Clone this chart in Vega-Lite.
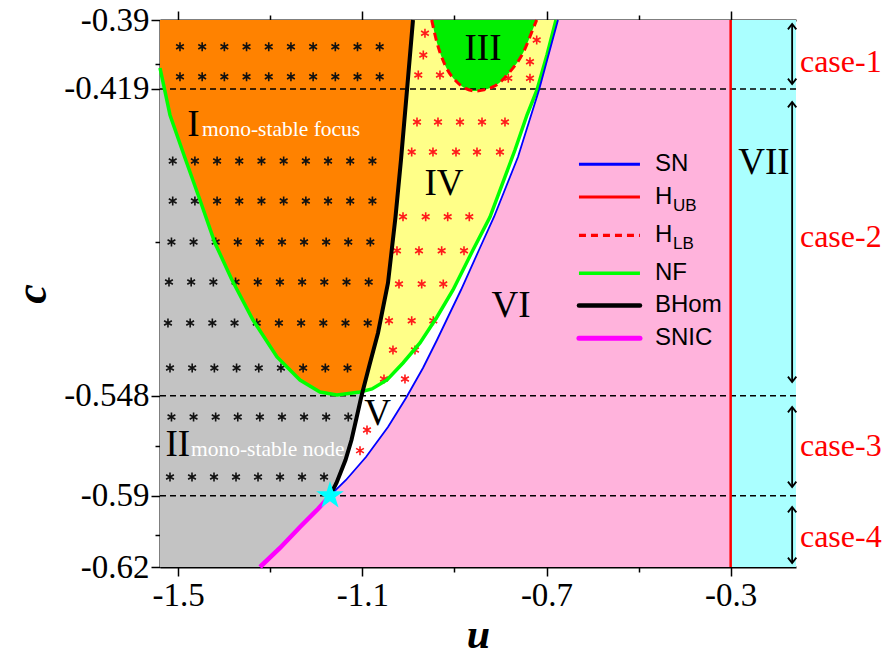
{
  "$schema": "https://vega.github.io/schema/vega-lite/v6.json",
  "width": 636,
  "height": 547,
  "autosize": {"type": "none"},
  "padding": {"left": 160, "top": 20, "right": 92, "bottom": 92},
  "background": "white",
  "config": {"view": {"stroke": null}},
  "resolve": {"axis": {"x": "independent"}},
  "datasets": {
    "box": [
      {"k": "gray", "u1": -1.5395, "u2": -0.3, "c1": -0.62, "c2": -0.39},
      {"k": "cyan", "u1": -0.3, "u2": -0.1581, "c1": -0.62, "c2": -0.39}
    ],
    "bound": [
      {"curve": "SNIC", "u": -1.3223, "c": -0.62},
      {"curve": "SNIC", "u": -1.2789, "c": -0.61201},
      {"curve": "SNIC", "u": -1.2354, "c": -0.60318},
      {"curve": "SNIC", "u": -1.1964, "c": -0.59561},
      {"curve": "SNIC", "u": -1.1703, "c": -0.59},
      {"curve": "SN", "u": -1.1703, "c": -0.59},
      {"curve": "SN", "u": -1.1355, "c": -0.58342},
      {"curve": "SN", "u": -1.0921, "c": -0.57375},
      {"curve": "SN", "u": -1.0443, "c": -0.56113},
      {"curve": "SN", "u": -1.0052, "c": -0.54894},
      {"curve": "SN", "u": -0.9683, "c": -0.53632},
      {"curve": "SN", "u": -0.9379, "c": -0.52455},
      {"curve": "SN", "u": -0.914, "c": -0.51488},
      {"curve": "SN", "u": -0.8858, "c": -0.50353},
      {"curve": "SN", "u": -0.8467, "c": -0.48671},
      {"curve": "SN", "u": -0.8141, "c": -0.47283},
      {"curve": "SN", "u": -0.762, "c": -0.4476},
      {"curve": "SN", "u": -0.7163, "c": -0.41943},
      {"curve": "SN", "u": -0.6751, "c": -0.39}
    ],
    "white": [
      {"c": -0.59, "b": -1.1703, "s": -1.1703},
      {"c": -0.58468, "b": -1.1562, "s": -1.1421},
      {"c": -0.58342, "b": -1.1536, "s": -1.1355},
      {"c": -0.57501, "b": -1.1366, "s": -1.0978},
      {"c": -0.57375, "b": -1.1347, "s": -1.0921},
      {"c": -0.5666, "b": -1.1236, "s": -1.065},
      {"c": -0.56113, "b": -1.1172, "s": -1.0443},
      {"c": -0.55735, "b": -1.1127, "s": -1.0322},
      {"c": -0.54894, "b": -1.1029, "s": -1.0052},
      {"c": -0.5481, "b": -1.1019, "s": -1.0028},
      {"c": -0.53632, "b": -1.0862, "s": -0.9683},
      {"c": -0.53506, "b": -1.0845, "s": -0.965},
      {"c": -0.52455, "b": -1.0701, "s": -0.9379},
      {"c": -0.52161, "b": -1.066, "s": -0.9306},
      {"c": -0.51488, "b": -1.0591, "s": -0.914},
      {"c": -0.50353, "b": -1.0474, "s": -0.8858},
      {"c": -0.50058, "b": -1.0443, "s": -0.8789},
      {"c": -0.48671, "b": -1.0362, "s": -0.8467},
      {"c": -0.47283, "b": -1.028, "s": -0.8141},
      {"c": -0.44887, "b": -1.0161, "s": -0.7646},
      {"c": -0.4476, "b": -1.0155, "s": -0.762},
      {"c": -0.41943, "b": -1.003, "s": -0.7163},
      {"c": -0.39, "b": -0.99, "s": -0.6751}
    ],
    "yellow": [
      {"c": -0.54612, "b": -1.0991, "n": -1.0991},
      {"c": -0.54515, "b": -1.098, "n": -1.0791},
      {"c": -0.54137, "b": -1.0929, "n": -1.0465},
      {"c": -0.53422, "b": -1.0833, "n": -1.0117},
      {"c": -0.52581, "b": -1.0718, "n": -0.9748},
      {"c": -0.51488, "b": -1.0591, "n": -0.9379},
      {"c": -0.50353, "b": -1.0474, "n": -0.9031},
      {"c": -0.48671, "b": -1.0362, "n": -0.8597},
      {"c": -0.47283, "b": -1.028, "n": -0.8228},
      {"c": -0.45601, "b": -1.0196, "n": -0.7902},
      {"c": -0.44466, "b": -1.0142, "n": -0.7685},
      {"c": -0.42994, "b": -1.0077, "n": -0.7424},
      {"c": -0.41943, "b": -1.003, "n": -0.7207},
      {"c": -0.40472, "b": -0.9965, "n": -0.699},
      {"c": -0.39, "b": -0.99, "n": -0.6794}
    ],
    "orange": [
      {"c": -0.54768, "l": -1.1551, "r": -1.1551},
      {"c": -0.54684, "l": -1.1796, "r": -1.1219},
      {"c": -0.54641, "l": -1.192, "r": -1.1051},
      {"c": -0.54612, "l": -1.1946, "r": -1.0991},
      {"c": -0.54137, "l": -1.2354, "r": -1.0929},
      {"c": -0.5317, "l": -1.2854, "r": -1.0799},
      {"c": -0.51614, "l": -1.3375, "r": -1.0604},
      {"c": -0.49932, "l": -1.3831, "r": -1.0436},
      {"c": -0.48376, "l": -1.4201, "r": -1.0344},
      {"c": -0.46568, "l": -1.4527, "r": -1.0245},
      {"c": -0.44802, "l": -1.4852, "r": -1.0157},
      {"c": -0.42994, "l": -1.5178, "r": -1.0077},
      {"c": -0.41018, "l": -1.5395, "r": -0.9989},
      {"c": -0.39, "l": -1.5395, "r": -0.99}
    ],
    "nf": [
      {"u": -1.5395, "c": -0.41018}, {"u": -1.5178, "c": -0.42994}, {"u": -1.4852, "c": -0.44802},
      {"u": -1.4527, "c": -0.46568}, {"u": -1.4201, "c": -0.48376}, {"u": -1.3831, "c": -0.49932},
      {"u": -1.3375, "c": -0.51614}, {"u": -1.2854, "c": -0.5317}, {"u": -1.2354, "c": -0.54137},
      {"u": -1.192, "c": -0.54641}, {"u": -1.1551, "c": -0.54768}, {"u": -1.1051, "c": -0.54641},
      {"u": -1.0791, "c": -0.54515}, {"u": -1.0465, "c": -0.54137}, {"u": -1.0117, "c": -0.53422},
      {"u": -0.9748, "c": -0.52581}, {"u": -0.9379, "c": -0.51488}, {"u": -0.9031, "c": -0.50353},
      {"u": -0.8597, "c": -0.48671}, {"u": -0.8228, "c": -0.47283}, {"u": -0.7902, "c": -0.45601},
      {"u": -0.7685, "c": -0.44466}, {"u": -0.7424, "c": -0.42994}, {"u": -0.7207, "c": -0.41943},
      {"u": -0.699, "c": -0.40472}, {"u": -0.6794, "c": -0.39}
    ],
    "bhom": [
      {"u": -1.1703, "c": -0.59}, {"u": -1.1562, "c": -0.58468}, {"u": -1.1366, "c": -0.57501},
      {"u": -1.1236, "c": -0.5666}, {"u": -1.1127, "c": -0.55735}, {"u": -1.1019, "c": -0.5481},
      {"u": -1.0845, "c": -0.53506}, {"u": -1.066, "c": -0.52161}, {"u": -1.0443, "c": -0.50058},
      {"u": -1.028, "c": -0.47283}, {"u": -1.0161, "c": -0.44887}, {"u": -1.003, "c": -0.41943},
      {"u": -0.99, "c": -0.39}
    ],
    "hlb": [
      {"u": -0.9494, "c": -0.39}, {"u": -0.9385, "c": -0.39912}, {"u": -0.9205, "c": -0.40892},
      {"u": -0.8951, "c": -0.41594}, {"u": -0.8553, "c": -0.41985}, {"u": -0.8156, "c": -0.41805},
      {"u": -0.7793, "c": -0.41174}, {"u": -0.7496, "c": -0.40333}, {"u": -0.7287, "c": -0.39349},
      {"u": -0.7213, "c": -0.39}
    ],
    "dash": [{"c": -0.419}, {"c": -0.548}, {"c": -0.59}],
    "starBlack": [
      {"u": -1.4961, "c": -0.40123}, {"u": -1.4479, "c": -0.40123}, {"u": -1.3997, "c": -0.40123}, {"u": -1.3515, "c": -0.40123}, {"u": -1.3033, "c": -0.40123},
      {"u": -1.2551, "c": -0.40123}, {"u": -1.2069, "c": -0.40123}, {"u": -1.1587, "c": -0.40123}, {"u": -1.1105, "c": -0.40123}, {"u": -1.0623, "c": -0.40123},
      {"u": -1.4961, "c": -0.41384}, {"u": -1.4479, "c": -0.41384}, {"u": -1.3997, "c": -0.41384}, {"u": -1.3515, "c": -0.41384}, {"u": -1.3033, "c": -0.41384},
      {"u": -1.2551, "c": -0.41384}, {"u": -1.2069, "c": -0.41384}, {"u": -1.1587, "c": -0.41384}, {"u": -1.1105, "c": -0.41384}, {"u": -1.0623, "c": -0.41384},
      {"u": -1.5119, "c": -0.44929}, {"u": -1.4637, "c": -0.44929}, {"u": -1.4155, "c": -0.44929}, {"u": -1.3673, "c": -0.44929}, {"u": -1.3191, "c": -0.44929},
      {"u": -1.2709, "c": -0.44929}, {"u": -1.2227, "c": -0.44929}, {"u": -1.1745, "c": -0.44929}, {"u": -1.1263, "c": -0.44929}, {"u": -1.0781, "c": -0.44929},
      {"u": -1.5119, "c": -0.4661}, {"u": -1.4637, "c": -0.4661}, {"u": -1.4155, "c": -0.4661}, {"u": -1.3673, "c": -0.4661}, {"u": -1.3191, "c": -0.4661},
      {"u": -1.2709, "c": -0.4661}, {"u": -1.2227, "c": -0.4661}, {"u": -1.1745, "c": -0.4661}, {"u": -1.1263, "c": -0.4661}, {"u": -1.0781, "c": -0.4661},
      {"u": -1.5146, "c": -0.48334}, {"u": -1.4666, "c": -0.48334}, {"u": -1.4186, "c": -0.48334}, {"u": -1.3706, "c": -0.48334}, {"u": -1.3226, "c": -0.48334},
      {"u": -1.2746, "c": -0.48334}, {"u": -1.2266, "c": -0.48334}, {"u": -1.1786, "c": -0.48334}, {"u": -1.1306, "c": -0.48334}, {"u": -1.0826, "c": -0.48334},
      {"u": -1.52, "c": -0.50016}, {"u": -1.4718, "c": -0.50016}, {"u": -1.4236, "c": -0.50016}, {"u": -1.3754, "c": -0.50016}, {"u": -1.3272, "c": -0.50016},
      {"u": -1.279, "c": -0.50016}, {"u": -1.2308, "c": -0.50016}, {"u": -1.1826, "c": -0.50016}, {"u": -1.1344, "c": -0.50016}, {"u": -1.0862, "c": -0.50016},
      {"u": -1.5222, "c": -0.5174}, {"u": -1.474, "c": -0.5174}, {"u": -1.4258, "c": -0.5174}, {"u": -1.3776, "c": -0.5174}, {"u": -1.3294, "c": -0.5174},
      {"u": -1.2812, "c": -0.5174}, {"u": -1.233, "c": -0.5174}, {"u": -1.1848, "c": -0.5174}, {"u": -1.1366, "c": -0.5174}, {"u": -1.0884, "c": -0.5174},
      {"u": -1.5178, "c": -0.53632}, {"u": -1.4696, "c": -0.53632}, {"u": -1.4214, "c": -0.53632}, {"u": -1.3732, "c": -0.53632}, {"u": -1.325, "c": -0.53632},
      {"u": -1.2768, "c": -0.53632}, {"u": -1.2286, "c": -0.53632}, {"u": -1.1804, "c": -0.53632}, {"u": -1.1322, "c": -0.53632},
      {"u": -1.5146, "c": -0.55693}, {"u": -1.4666, "c": -0.55693}, {"u": -1.4186, "c": -0.55693}, {"u": -1.3706, "c": -0.55693}, {"u": -1.3226, "c": -0.55693},
      {"u": -1.2746, "c": -0.55693}, {"u": -1.2266, "c": -0.55693}, {"u": -1.1786, "c": -0.55693}, {"u": -1.1306, "c": -0.55693},
      {"u": -1.5178, "c": -0.58215}, {"u": -1.47, "c": -0.58215}, {"u": -1.4222, "c": -0.58215}, {"u": -1.3744, "c": -0.58215},
      {"u": -1.3266, "c": -0.58215}, {"u": -1.2788, "c": -0.58215}, {"u": -1.231, "c": -0.58215}, {"u": -1.1832, "c": -0.58215}
    ],
    "starRed": [
      {"u": -0.964, "c": -0.39559}, {"u": -0.7213, "c": -0.39841}, {"u": -0.9676, "c": -0.40472}, {"u": -0.7359, "c": -0.40753},
      {"u": -0.9785, "c": -0.41313}, {"u": -0.9314, "c": -0.41313}, {"u": -0.783, "c": -0.41451}, {"u": -0.7359, "c": -0.41451},
      {"u": -0.9813, "c": -0.43289}, {"u": -0.9357, "c": -0.43289}, {"u": -0.8879, "c": -0.43289}, {"u": -0.8401, "c": -0.43289}, {"u": -0.7902, "c": -0.43289},
      {"u": -0.9928, "c": -0.4455}, {"u": -0.9466, "c": -0.4455}, {"u": -0.8966, "c": -0.4455}, {"u": -0.851, "c": -0.4455}, {"u": -0.8011, "c": -0.4455},
      {"u": -1.0117, "c": -0.47271}, {"u": -0.9624, "c": -0.47271}, {"u": -0.9146, "c": -0.47271}, {"u": -0.8677, "c": -0.47271},
      {"u": -1.0248, "c": -0.487}, {"u": -0.977, "c": -0.487}, {"u": -0.9277, "c": -0.487}, {"u": -0.8792, "c": -0.487},
      {"u": -1.0204, "c": -0.501}, {"u": -0.9711, "c": -0.501}, {"u": -0.9242, "c": -0.501},
      {"u": -1.0421, "c": -0.51643}, {"u": -0.9928, "c": -0.51643}, {"u": -0.9459, "c": -0.51643},
      {"u": -1.0335, "c": -0.52875}, {"u": -0.9857, "c": -0.52875},
      {"u": -1.053, "c": -0.54095}, {"u": -1.0074, "c": -0.54095},
      {"u": -1.0899, "c": -0.56239}, {"u": -1.1051, "c": -0.57109}
    ],
    "roman": [
      {"t": "I", "u": -1.4668, "c": -0.43877},
      {"t": "II", "u": -1.5007, "c": -0.57333},
      {"t": "III", "u": -0.838, "c": -0.40682},
      {"t": "IV", "u": -0.9227, "c": -0.46358},
      {"t": "V", "u": -1.0671, "c": -0.56029},
      {"t": "VI", "u": -0.7772, "c": -0.51488},
      {"t": "VII", "u": -0.2277, "c": -0.45475}
    ],
    "desc": [
      {"t": "mono-stable focus", "u": -1.4483, "c": -0.43877},
      {"t": "mono-stable node", "u": -1.4722, "c": -0.57333}
    ],
    "cases": [
      {"t": "case-1", "u": -0.1495, "c": -0.40766},
      {"t": "case-2", "u": -0.1495, "c": -0.48124},
      {"t": "case-3", "u": -0.1495, "c": -0.56912},
      {"t": "case-4", "u": -0.1495, "c": -0.60738}
    ],
    "arrows": [
      {"u": -0.1665, "c1": -0.41691, "c2": -0.39168},
      {"u": -0.1665, "c1": -0.54221, "c2": -0.42448},
      {"u": -0.1665, "c1": -0.58636, "c2": -0.55272},
      {"u": -0.1665, "c1": -0.61832, "c2": -0.59477}
    ],
    "legend": [
      {"k": "SN", "c": -0.45067},
      {"k": "HUB", "c": -0.46442},
      {"k": "HLB", "c": -0.48053},
      {"k": "NF", "c": -0.49651},
      {"k": "BHom", "c": -0.51004},
      {"k": "SNIC", "c": -0.52384}
    ],
    "legendText": [
      {"t": "SN", "c": -0.45067},
      {"t": "H", "c": -0.46442},
      {"t": "H", "c": -0.48053},
      {"t": "NF", "c": -0.49651},
      {"t": "BHom", "c": -0.51004},
      {"t": "SNIC", "c": -0.52384}
    ],
    "legendSub": [
      {"t": "UB", "c": -0.46821},
      {"t": "LB", "c": -0.48419}
    ],
    "bt": [{"u": -1.1703, "c": -0.59}],
    "hub": [{"u": -0.3}]
  },
  "layer": [
    {
      "data": {"name": "box"},
      "transform": [{"filter": "datum.k == 'gray'"}],
      "mark": {"type": "rect", "color": "#c3c3c3"},
      "encoding": {
        "x": {"field": "u1", "type": "quantitative", "scale": {"domain": [-1.5395, -0.1581], "nice": false, "zero": false},
          "axis": {"orient": "bottom", "values": [-1.5, -1.3, -1.1, -0.9, -0.7, -0.5, -0.3],
            "labelExpr": "datum.value == -1.5 ? '-1.5' : datum.value == -1.1 ? '-1.1' : datum.value == -0.7 ? '-0.7' : datum.value == -0.3 ? '-0.3' : ''",
            "tickSize": {"condition": {"test": "datum.value == -1.5 || datum.value == -1.1 || datum.value == -0.7 || datum.value == -0.3", "value": 9}, "value": 5},
            "grid": false, "labelFont": "Liberation Serif", "labelFontSize": 33, "labelColor": "black", "labelPadding": 3,
            "labelOverlap": false, "labelFlush": false,
            "domainColor": "black", "domainWidth": 2, "tickColor": "black", "tickWidth": 1.5,
            "title": "u", "titleFont": "Liberation Serif", "titleFontSize": 42, "titleFontStyle": "italic", "titleFontWeight": "bold", "titleColor": "black", "titlePadding": 2}},
        "x2": {"field": "u2"},
        "y": {"field": "c1", "type": "quantitative", "scale": {"domain": [-0.62, -0.39], "nice": false, "zero": false},
          "axis": {"orient": "left", "values": [-0.39, -0.4085, -0.419, -0.4835, -0.548, -0.569, -0.59, -0.6065, -0.62],
            "labelExpr": "datum.value == -0.39 ? '-0.39' : datum.value == -0.419 ? '-0.419' : datum.value == -0.548 ? '-0.548' : datum.value == -0.59 ? '-0.59' : datum.value == -0.62 ? '-0.62' : ''",
            "tickSize": {"condition": {"test": "datum.value == -0.39 || datum.value == -0.419 || datum.value == -0.548 || datum.value == -0.59 || datum.value == -0.62", "value": 9}, "value": 5},
            "grid": false, "labelFont": "Liberation Serif", "labelFontSize": 33, "labelColor": "black", "labelPadding": 2,
            "labelOverlap": false, "labelFlush": false,
            "domainColor": "black", "domainWidth": 2, "tickColor": "black", "tickWidth": 1.5,
            "title": "c", "titleFont": "Liberation Serif", "titleFontSize": 44, "titleFontStyle": "italic", "titleFontWeight": "bold", "titleColor": "black", "titlePadding": 9}},
        "y2": {"field": "c2"}
      }
    },
    {
      "data": {"name": "box"},
      "transform": [{"filter": "datum.k == 'cyan'"}],
      "mark": {"type": "rect", "color": "#aaffff"},
      "encoding": {
        "x": {"field": "u1", "type": "quantitative", "scale": {"domain": [-1.5395, -0.1581], "nice": false, "zero": false},
          "axis": {"orient": "top", "values": [-1.5, -1.3, -1.1, -0.9, -0.7, -0.5, -0.3], "labels": false, "title": null, "grid": false,
            "tickSize": {"condition": {"test": "datum.value == -1.5 || datum.value == -1.1 || datum.value == -0.7 || datum.value == -0.3", "value": 9}, "value": 5},
            "domainColor": "black", "domainWidth": 2, "tickColor": "black", "tickWidth": 1.5}},
        "x2": {"field": "u2"},
        "y": {"field": "c1", "type": "quantitative", "scale": {"domain": [-0.62, -0.39], "nice": false, "zero": false}},
        "y2": {"field": "c2"}
      }
    },
    {
      "data": {"name": "bound"},
      "mark": {"type": "area", "orient": "horizontal", "color": "#ffb3dc", "opacity": 1},
      "encoding": {
        "y": {"field": "c", "type": "quantitative", "scale": {"domain": [-0.62, -0.39], "nice": false, "zero": false}},
        "x": {"field": "u", "type": "quantitative", "stack": null, "scale": {"domain": [-1.5395, -0.1581], "nice": false, "zero": false}, "axis": null},
        "x2": {"datum": -0.3}
      }
    },
    {
      "data": {"name": "white"},
      "mark": {"type": "area", "orient": "horizontal", "color": "#ffffff", "opacity": 1},
      "encoding": {
        "y": {"field": "c", "type": "quantitative", "scale": {"domain": [-0.62, -0.39], "nice": false, "zero": false}},
        "x": {"field": "b", "type": "quantitative", "stack": null, "scale": {"domain": [-1.5395, -0.1581], "nice": false, "zero": false}, "axis": null},
        "x2": {"field": "s"}
      }
    },
    {
      "data": {"name": "yellow"},
      "mark": {"type": "area", "orient": "horizontal", "color": "#ffff88", "opacity": 1},
      "encoding": {
        "y": {"field": "c", "type": "quantitative", "scale": {"domain": [-0.62, -0.39], "nice": false, "zero": false}},
        "x": {"field": "b", "type": "quantitative", "stack": null, "scale": {"domain": [-1.5395, -0.1581], "nice": false, "zero": false}, "axis": null},
        "x2": {"field": "n"}
      }
    },
    {
      "data": {"name": "orange"},
      "mark": {"type": "area", "orient": "horizontal", "color": "#ff8200", "opacity": 1},
      "encoding": {
        "y": {"field": "c", "type": "quantitative", "scale": {"domain": [-0.62, -0.39], "nice": false, "zero": false}},
        "x": {"field": "l", "type": "quantitative", "stack": null, "scale": {"domain": [-1.5395, -0.1581], "nice": false, "zero": false}, "axis": null},
        "x2": {"field": "r"}
      }
    },
    {
      "data": {"name": "hlb"},
      "mark": {"type": "area", "color": "#00ee00", "opacity": 1, "interpolate": "monotone"},
      "encoding": {
        "x": {"field": "u", "type": "quantitative", "scale": {"domain": [-1.5395, -0.1581], "nice": false, "zero": false}, "axis": null},
        "y": {"field": "c", "type": "quantitative", "stack": null, "scale": {"domain": [-0.62, -0.39], "nice": false, "zero": false}},
        "y2": {"datum": -0.39}
      }
    },
    {
      "data": {"name": "dash"},
      "mark": {"type": "rule", "color": "black", "strokeWidth": 1.5, "strokeDash": [6, 4]},
      "encoding": {
        "y": {"field": "c", "type": "quantitative", "scale": {"domain": [-0.62, -0.39], "nice": false, "zero": false}}
      }
    },
    {
      "data": {"name": "starBlack"},
      "mark": {"type": "point", "shape": "M0,-1L0,1M-0.866,-0.5L0.866,0.5M-0.866,0.5L0.866,-0.5", "filled": false, "color": "#111111", "strokeWidth": 1.6, "size": 81, "opacity": 1},
      "encoding": {
        "x": {"field": "u", "type": "quantitative", "scale": {"domain": [-1.5395, -0.1581], "nice": false, "zero": false}, "axis": null},
        "y": {"field": "c", "type": "quantitative", "scale": {"domain": [-0.62, -0.39], "nice": false, "zero": false}}
      }
    },
    {
      "data": {"name": "starRed"},
      "mark": {"type": "point", "shape": "M0,-1L0,1M-0.866,-0.5L0.866,0.5M-0.866,0.5L0.866,-0.5", "filled": false, "color": "#ff1a1a", "strokeWidth": 1.6, "size": 81, "opacity": 1},
      "encoding": {
        "x": {"field": "u", "type": "quantitative", "scale": {"domain": [-1.5395, -0.1581], "nice": false, "zero": false}, "axis": null},
        "y": {"field": "c", "type": "quantitative", "scale": {"domain": [-0.62, -0.39], "nice": false, "zero": false}}
      }
    },
    {
      "data": {"name": "nf"},
      "mark": {"type": "line", "color": "#00ff00", "strokeWidth": 3.5},
      "encoding": {
        "x": {"field": "u", "type": "quantitative", "scale": {"domain": [-1.5395, -0.1581], "nice": false, "zero": false}, "axis": null},
        "y": {"field": "c", "type": "quantitative", "scale": {"domain": [-0.62, -0.39], "nice": false, "zero": false}}
      }
    },
    {
      "data": {"name": "bound"},
      "transform": [{"filter": "datum.curve == 'SN'"}],
      "mark": {"type": "line", "color": "#0000ff", "strokeWidth": 1.8},
      "encoding": {
        "x": {"field": "u", "type": "quantitative", "scale": {"domain": [-1.5395, -0.1581], "nice": false, "zero": false}, "axis": null},
        "y": {"field": "c", "type": "quantitative", "scale": {"domain": [-0.62, -0.39], "nice": false, "zero": false}}
      }
    },
    {
      "data": {"name": "bound"},
      "transform": [{"filter": "datum.curve == 'SNIC'"}],
      "mark": {"type": "line", "color": "#ff00ff", "strokeWidth": 4.5},
      "encoding": {
        "x": {"field": "u", "type": "quantitative", "scale": {"domain": [-1.5395, -0.1581], "nice": false, "zero": false}, "axis": null},
        "y": {"field": "c", "type": "quantitative", "scale": {"domain": [-0.62, -0.39], "nice": false, "zero": false}}
      }
    },
    {
      "data": {"name": "bhom"},
      "mark": {"type": "line", "color": "#000000", "strokeWidth": 4},
      "encoding": {
        "x": {"field": "u", "type": "quantitative", "scale": {"domain": [-1.5395, -0.1581], "nice": false, "zero": false}, "axis": null},
        "y": {"field": "c", "type": "quantitative", "scale": {"domain": [-0.62, -0.39], "nice": false, "zero": false}}
      }
    },
    {
      "data": {"name": "hub"},
      "mark": {"type": "rule", "color": "#ff0000", "strokeWidth": 2.5},
      "encoding": {
        "x": {"field": "u", "type": "quantitative", "scale": {"domain": [-1.5395, -0.1581], "nice": false, "zero": false}, "axis": null}
      }
    },
    {
      "data": {"name": "hlb"},
      "mark": {"type": "line", "color": "#ff0000", "strokeWidth": 3, "strokeDash": [8, 5], "interpolate": "monotone"},
      "encoding": {
        "x": {"field": "u", "type": "quantitative", "scale": {"domain": [-1.5395, -0.1581], "nice": false, "zero": false}, "axis": null},
        "y": {"field": "c", "type": "quantitative", "scale": {"domain": [-0.62, -0.39], "nice": false, "zero": false}}
      }
    },
    {
      "data": {"name": "bt"},
      "mark": {"type": "point", "shape": "M0,-1L0.2245,-0.309L0.9511,-0.309L0.3633,0.118L0.5878,0.809L0,0.382L-0.5878,0.809L-0.3633,0.118L-0.9511,-0.309L-0.2245,-0.309Z", "filled": true, "color": "#00ffff", "size": 850, "opacity": 1},
      "encoding": {
        "x": {"field": "u", "type": "quantitative", "scale": {"domain": [-1.5395, -0.1581], "nice": false, "zero": false}, "axis": null},
        "y": {"field": "c", "type": "quantitative", "scale": {"domain": [-0.62, -0.39], "nice": false, "zero": false}}
      }
    },
    {
      "data": {"name": "roman"},
      "mark": {"type": "text", "font": "Liberation Serif", "fontSize": 37, "color": "black", "align": "center", "baseline": "alphabetic"},
      "encoding": {
        "x": {"field": "u", "type": "quantitative", "scale": {"domain": [-1.5395, -0.1581], "nice": false, "zero": false}, "axis": null},
        "y": {"field": "c", "type": "quantitative", "scale": {"domain": [-0.62, -0.39], "nice": false, "zero": false}},
        "text": {"field": "t"}
      }
    },
    {
      "data": {"name": "desc"},
      "mark": {"type": "text", "font": "Liberation Serif", "fontSize": 21.5, "color": "white", "align": "left", "baseline": "alphabetic"},
      "encoding": {
        "x": {"field": "u", "type": "quantitative", "scale": {"domain": [-1.5395, -0.1581], "nice": false, "zero": false}, "axis": null},
        "y": {"field": "c", "type": "quantitative", "scale": {"domain": [-0.62, -0.39], "nice": false, "zero": false}},
        "text": {"field": "t"}
      }
    },
    {
      "data": {"name": "cases"},
      "mark": {"type": "text", "font": "Liberation Serif", "fontSize": 32, "color": "#ff0000", "align": "left", "baseline": "middle"},
      "encoding": {
        "x": {"field": "u", "type": "quantitative", "scale": {"domain": [-1.5395, -0.1581], "nice": false, "zero": false}, "axis": null},
        "y": {"field": "c", "type": "quantitative", "scale": {"domain": [-0.62, -0.39], "nice": false, "zero": false}},
        "text": {"field": "t"}
      }
    },
    {
      "data": {"name": "arrows"},
      "mark": {"type": "rule", "color": "black", "strokeWidth": 1.8},
      "encoding": {
        "x": {"field": "u", "type": "quantitative", "scale": {"domain": [-1.5395, -0.1581], "nice": false, "zero": false}, "axis": null},
        "y": {"field": "c1", "type": "quantitative", "scale": {"domain": [-0.62, -0.39], "nice": false, "zero": false}},
        "y2": {"field": "c2"}
      }
    },
    {
      "data": {"name": "arrows"},
      "mark": {"type": "point", "shape": "M-0.7,0.9L0,0L0.7,0.9", "filled": false, "color": "black", "strokeWidth": 1.8, "size": 144, "opacity": 1},
      "encoding": {
        "x": {"field": "u", "type": "quantitative", "scale": {"domain": [-1.5395, -0.1581], "nice": false, "zero": false}, "axis": null},
        "y": {"field": "c2", "type": "quantitative", "scale": {"domain": [-0.62, -0.39], "nice": false, "zero": false}}
      }
    },
    {
      "data": {"name": "arrows"},
      "mark": {"type": "point", "shape": "M-0.7,-0.9L0,0L0.7,-0.9", "filled": false, "color": "black", "strokeWidth": 1.8, "size": 144, "opacity": 1},
      "encoding": {
        "x": {"field": "u", "type": "quantitative", "scale": {"domain": [-1.5395, -0.1581], "nice": false, "zero": false}, "axis": null},
        "y": {"field": "c1", "type": "quantitative", "scale": {"domain": [-0.62, -0.39], "nice": false, "zero": false}}
      }
    },
    {
      "data": {"name": "legend"},
      "transform": [{"filter": "datum.k == 'SN'"}],
      "mark": {"type": "rule", "color": "#0000ff", "strokeWidth": 3},
      "encoding": {
        "x": {"datum": -0.6295, "type": "quantitative", "scale": {"domain": [-1.5395, -0.1581], "nice": false, "zero": false}, "axis": null},
        "x2": {"datum": -0.497},
        "y": {"field": "c", "type": "quantitative", "scale": {"domain": [-0.62, -0.39], "nice": false, "zero": false}}
      }
    },
    {
      "data": {"name": "legend"},
      "transform": [{"filter": "datum.k == 'HUB'"}],
      "mark": {"type": "rule", "color": "#ff0000", "strokeWidth": 3},
      "encoding": {
        "x": {"datum": -0.6295, "type": "quantitative", "scale": {"domain": [-1.5395, -0.1581], "nice": false, "zero": false}, "axis": null},
        "x2": {"datum": -0.497},
        "y": {"field": "c", "type": "quantitative", "scale": {"domain": [-0.62, -0.39], "nice": false, "zero": false}}
      }
    },
    {
      "data": {"name": "legend"},
      "transform": [{"filter": "datum.k == 'HLB'"}],
      "mark": {"type": "rule", "color": "#ff0000", "strokeWidth": 3.2, "strokeDash": [7, 5]},
      "encoding": {
        "x": {"datum": -0.6295, "type": "quantitative", "scale": {"domain": [-1.5395, -0.1581], "nice": false, "zero": false}, "axis": null},
        "x2": {"datum": -0.497},
        "y": {"field": "c", "type": "quantitative", "scale": {"domain": [-0.62, -0.39], "nice": false, "zero": false}}
      }
    },
    {
      "data": {"name": "legend"},
      "transform": [{"filter": "datum.k == 'NF'"}],
      "mark": {"type": "rule", "color": "#00ff00", "strokeWidth": 3.5},
      "encoding": {
        "x": {"datum": -0.6295, "type": "quantitative", "scale": {"domain": [-1.5395, -0.1581], "nice": false, "zero": false}, "axis": null},
        "x2": {"datum": -0.497},
        "y": {"field": "c", "type": "quantitative", "scale": {"domain": [-0.62, -0.39], "nice": false, "zero": false}}
      }
    },
    {
      "data": {"name": "legend"},
      "transform": [{"filter": "datum.k == 'BHom'"}],
      "mark": {"type": "rule", "color": "#000000", "strokeWidth": 4.5, "strokeCap": "round"},
      "encoding": {
        "x": {"datum": -0.6295, "type": "quantitative", "scale": {"domain": [-1.5395, -0.1581], "nice": false, "zero": false}, "axis": null},
        "x2": {"datum": -0.497},
        "y": {"field": "c", "type": "quantitative", "scale": {"domain": [-0.62, -0.39], "nice": false, "zero": false}}
      }
    },
    {
      "data": {"name": "legend"},
      "transform": [{"filter": "datum.k == 'SNIC'"}],
      "mark": {"type": "rule", "color": "#ff00ff", "strokeWidth": 5, "strokeCap": "round"},
      "encoding": {
        "x": {"datum": -0.6295, "type": "quantitative", "scale": {"domain": [-1.5395, -0.1581], "nice": false, "zero": false}, "axis": null},
        "x2": {"datum": -0.497},
        "y": {"field": "c", "type": "quantitative", "scale": {"domain": [-0.62, -0.39], "nice": false, "zero": false}}
      }
    },
    {
      "data": {"name": "legendText"},
      "mark": {"type": "text", "font": "Liberation Sans", "fontSize": 24, "color": "black", "align": "left", "baseline": "middle"},
      "encoding": {
        "x": {"datum": -0.4644, "type": "quantitative", "scale": {"domain": [-1.5395, -0.1581], "nice": false, "zero": false}, "axis": null},
        "y": {"field": "c", "type": "quantitative", "scale": {"domain": [-0.62, -0.39], "nice": false, "zero": false}},
        "text": {"field": "t"}
      }
    },
    {
      "data": {"name": "legendSub"},
      "mark": {"type": "text", "font": "Liberation Sans", "fontSize": 17, "color": "black", "align": "left", "baseline": "middle"},
      "encoding": {
        "x": {"datum": -0.4253, "type": "quantitative", "scale": {"domain": [-1.5395, -0.1581], "nice": false, "zero": false}, "axis": null},
        "y": {"field": "c", "type": "quantitative", "scale": {"domain": [-0.62, -0.39], "nice": false, "zero": false}},
        "text": {"field": "t"}
      }
    }
  ]
}
